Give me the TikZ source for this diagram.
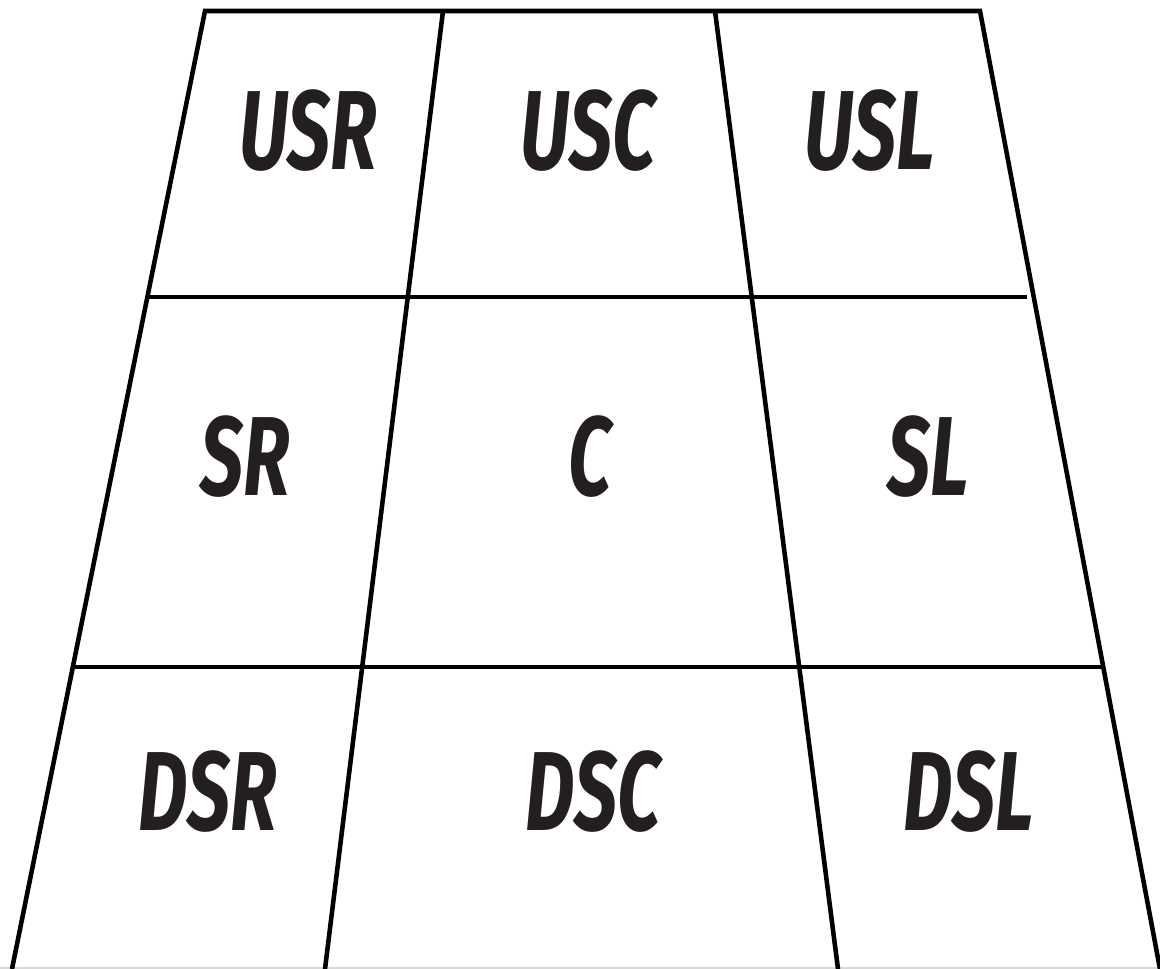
\documentclass[tikz,border=0pt]{standalone}
\usepackage{fontspec}
\newfontfamily\stagefont[FakeStretch=0.68]{Fira Sans}
\definecolor{labelgray}{RGB}{35,31,32}
\definecolor{floorgray}{RGB}{215,215,215}
\usetikzlibrary{positioning}

\begin{document}
\begin{tikzpicture}[x=0.02cm, y=-0.02cm,
    edge/.style={line width=2.6pt, black},
    area/.style={font=\stagefont\bfseries\itshape\fontsize{64}{64}\selectfont, text=labelgray, inner sep=0pt}
]
    \useasboundingbox (0,0) rectangle (1160,969);

    % Corners
    \coordinate (tl) at (205,11);
    \coordinate (tr) at (980,11);
    \coordinate (bl) at (12,969);
    \coordinate (br) at (1160,969);
    \coordinate (ta) at (443,11);
    \coordinate (tb) at (715,11);
    \coordinate (ba) at (325,969);
    \coordinate (bb) at (838,969);

    % Floor
    \draw[floorgray, line width=0.8pt] (0,968) -- (1160,968);

    % Outline
    \draw[edge] (bl) -- (tl) -- (tr) -- (br);
    \draw[edge] (ta) -- (ba);
    \draw[edge] (tb) -- (bb);

    % Rows
    \draw[edge] (148,297) -- (1027,297);
    \draw[edge] (73,667) -- (1104,667);

    % Labels
    \node[area] (usr) at (308,131) {USR};
    \node[area] (usc) at (588,131) {USC};
    \node[area] (usl) at (870,131) {USL};
    \node[area] (sr) at (245,457) {SR};
    \node[area] (c) at (590,457) {C};
    \node[area] (sl) at (928,457) {SL};
    \node[area] (dsr) at (208,792) {DSR};
    \node[area] (dsc) at (593,792) {DSC};
    \node[area] (dsl) at (969,792) {DSL};
\end{tikzpicture}
\end{document}
